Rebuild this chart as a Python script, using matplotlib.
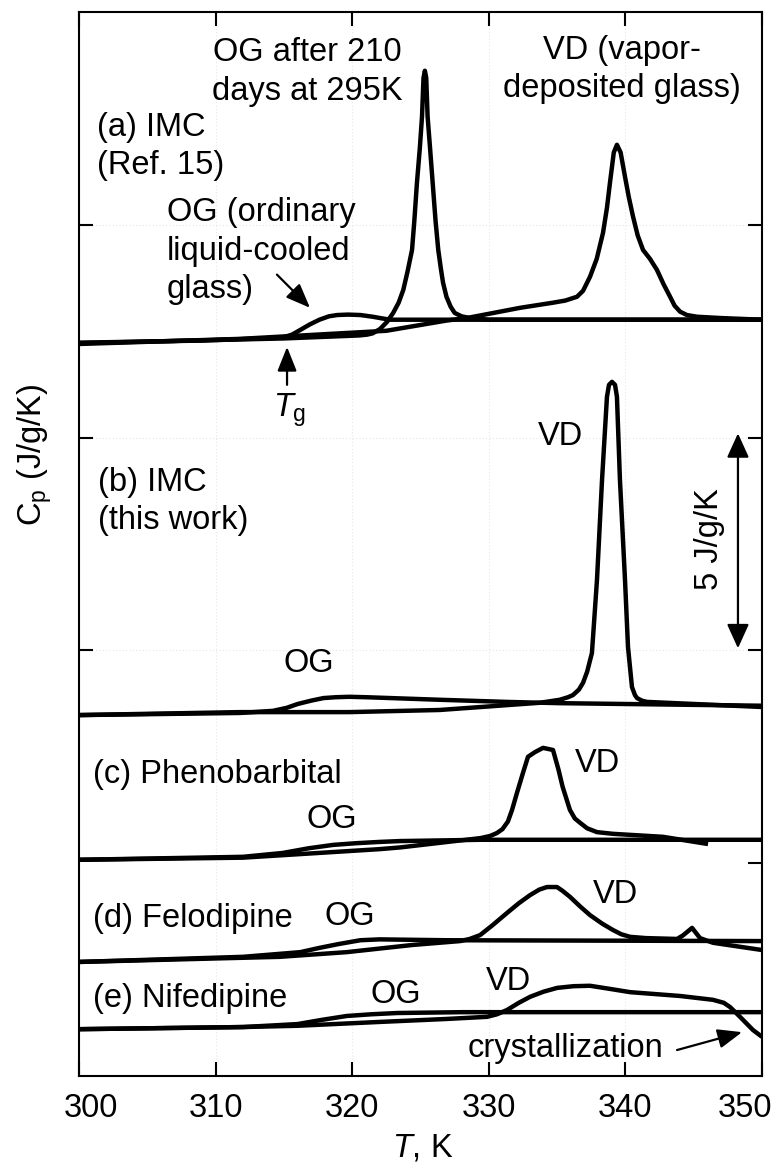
import matplotlib
matplotlib.use('Agg')
import matplotlib.pyplot as plt
from matplotlib.patches import ArrowStyle
from matplotlib.transforms import ScaledTranslation

plt.rcParams['font.family'] = ['Liberation Sans', 'DejaVu Sans']
plt.rcParams['mathtext.fontset'] = 'custom'
plt.rcParams['mathtext.rm'] = 'Liberation Sans'
plt.rcParams['mathtext.it'] = 'Liberation Sans:italic'
plt.rcParams['mathtext.bf'] = 'Liberation Sans:bold'

FS = 23.5

# ---------------- data (T in K, stacked Cp in J/g/K incl. offsets) ----------------
# (a) IMC, Ref. 15
T_a_og = [300, 309, 314.9, 315.6, 316.2, 316.9, 317.6, 318.3, 318.9, 319.7, 320.6, 321.5,
          322.2, 322.8, 325.0, 350]
Cp_a_og = [17.23, 17.28, 17.35, 17.42, 17.53, 17.66, 17.77, 17.85, 17.88, 17.89, 17.88, 17.84,
           17.80, 17.77, 17.77, 17.77]

T_a_aged = [300, 315, 320.5, 321.1, 321.5, 322.03, 322.55, 323.0, 323.4, 323.74, 324.05,
            324.38, 324.55, 324.74, 324.95, 325.11, 325.22, 325.32, 325.42, 325.52, 325.7,
            325.89, 326.1, 326.3, 326.5, 326.65, 326.9, 327.2, 327.5, 328.0, 328.6, 330, 350]
Cp_a_aged = [17.22, 17.33, 17.40, 17.42, 17.45, 17.55, 17.72, 17.93, 18.17, 18.47, 18.90,
             19.41, 20.10, 20.99, 21.80, 22.54, 23.45, 23.62, 23.45, 22.54, 21.80,
             20.99, 20.10, 19.41, 18.95, 18.64, 18.31, 18.08, 17.93, 17.85, 17.81, 17.77, 17.77]

T_a_vd = [300, 311.8, 322.5, 326.9, 328.4, 332.3, 334.7, 335.6, 336.46, 336.9, 337.41, 337.9,
          338.36, 338.65, 338.87, 339.15, 339.38, 339.65, 339.97, 340.25, 340.56, 340.9,
          341.29, 341.8, 342.31, 342.8, 343.27, 343.6, 344.0, 344.5, 345.24, 346.93, 350]
Cp_a_vd = [17.20, 17.32, 17.51, 17.75, 17.81, 18.05, 18.17, 18.22, 18.31, 18.45, 18.78, 19.20,
           19.81, 20.40, 20.99, 21.70, 21.88, 21.70, 21.13, 20.65, 20.19, 19.75,
           19.41, 19.20, 18.94, 18.60, 18.31, 18.10, 17.96, 17.88, 17.84, 17.81, 17.77]

# (b) IMC, this work
T_b_og = [300, 311.8, 314.2, 315.2, 316.0, 317.0, 317.9, 318.8, 319.8, 321.0, 322.8, 326.4,
          331.3, 335.2, 350]
Cp_b_og = [8.48, 8.53, 8.58, 8.65, 8.74, 8.82, 8.88, 8.90, 8.91, 8.90, 8.88, 8.84,
           8.79, 8.76, 8.70]

T_b_vd = [300, 311.8, 319.8, 326.4, 333.75, 335.2, 335.8, 336.16, 336.6, 336.9, 337.2, 337.55,
          337.92, 338.29, 338.65, 338.8, 339.02, 339.24, 339.38, 339.6, 339.97, 340.19,
          340.48, 340.7, 340.85, 341.2, 341.58, 350]
Cp_b_vd = [8.48, 8.55, 8.55, 8.60, 8.77, 8.84, 8.90, 8.95, 9.08, 9.24, 9.50, 9.94,
           11.66, 14.01, 15.96, 16.24, 16.31, 16.24, 15.96, 14.01, 11.66, 10.08,
           9.14, 8.95, 8.88, 8.82, 8.79, 8.67]

# (c) Phenobarbital
T_c_og = [300, 312, 314.9, 316.8, 318.6, 320.3, 322.0, 323.5, 329.4, 350]
Cp_c_og = [5.08, 5.15, 5.24, 5.35, 5.43, 5.47, 5.50, 5.52, 5.55, 5.55]

T_c_vd = [300, 312, 322.0, 323.5, 329.4, 330.1, 330.6, 331.0, 331.4, 331.7, 332.06, 332.5,
          332.87, 333.38, 333.97, 334.7, 335.1, 335.4, 335.94, 336.3, 336.68, 337.2,
          337.92, 339.09, 342.75, 346.05]
Cp_c_vd = [5.08, 5.13, 5.33, 5.37, 5.59, 5.64, 5.71, 5.80, 5.98, 6.25, 6.65, 7.12,
           7.50, 7.61, 7.71, 7.66, 7.20, 6.80, 6.25, 6.05, 5.95, 5.82,
           5.73, 5.69, 5.62, 5.45]

# (d) Felodipine
T_d_og = [300, 312, 316.2, 317.6, 319.0, 320.6, 322.0, 326.9, 350]
Cp_d_og = [2.68, 2.80, 2.91, 3.01, 3.10, 3.19, 3.21, 3.19, 3.17]

T_d_vd = [300, 314.7, 319.6, 324.45, 327.9, 328.6, 329.36, 330.3, 331.33, 332.2, 333.02,
          333.7, 334.26, 334.99, 335.4, 335.94, 336.7, 337.41, 338.3, 339.09, 339.7, 340.34,
          341.5, 343.78, 344.2, 344.88, 345.46, 346.41, 350]
Cp_d_vd = [2.68, 2.80, 2.91, 3.08, 3.17, 3.22, 3.31, 3.55, 3.83, 4.06, 4.25,
           4.38, 4.44, 4.44, 4.35, 4.21, 3.98, 3.78, 3.58, 3.43, 3.33, 3.27,
           3.24, 3.22, 3.30, 3.48, 3.24, 3.13, 2.96]

# (e) Nifedipine
T_e_og = [300, 312, 316, 317.8, 319.6, 321.4, 323.3, 328.1, 350]
Cp_e_og = [1.10, 1.15, 1.22, 1.32, 1.41, 1.45, 1.48, 1.50, 1.50]

T_e_vd = [300, 312, 316, 322.0, 326.9, 329.87, 330.6, 331.33, 332.2, 333.02, 334.0, 335.0,
          336.2, 337.41, 338.8, 340.34, 344.0, 346.41, 347.2, 347.66, 348.39, 349.34, 350]
Cp_e_vd = [1.10, 1.15, 1.18, 1.27, 1.34, 1.39, 1.45, 1.55, 1.72, 1.86, 1.98, 2.07,
           2.11, 2.12, 2.05, 1.97, 1.88, 1.79, 1.72, 1.62, 1.39, 1.08, 0.92]

x_ticks = [300, 310, 320, 330, 340, 350]
x_ticklabels = ['300', '310', '320', '330', '340', '350']
y_ticks_left = [10, 15, 20]
y_ticks_right = [5, 10, 15, 20]

curves = [(T_a_og, Cp_a_og), (T_a_aged, Cp_a_aged), (T_a_vd, Cp_a_vd),
          (T_b_og, Cp_b_og), (T_b_vd, Cp_b_vd),
          (T_c_og, Cp_c_og), (T_c_vd, Cp_c_vd),
          (T_d_og, Cp_d_og), (T_d_vd, Cp_d_vd),
          (T_e_og, Cp_e_og), (T_e_vd, Cp_e_vd)]

# ---------------- figure ----------------
fig = plt.figure(figsize=(7.78, 11.69), dpi=100)
ax = fig.add_axes([0.10154, 0.07956, 0.8779, 0.91017])

for T, y in curves:
    ax.plot(T, y, color='k', lw=3.2, solid_joinstyle='round', solid_capstyle='butt')

ax.set_xlim(300, 350)
ax.set_ylim(0, 25)
ax.set_xticks(x_ticks)
ax.set_xticklabels(x_ticklabels)
ax.set_yticks(y_ticks_left)
ax.set_yticklabels([])
ax.grid(True, color='#e6e6e6', ls=(0, (1, 2)), lw=0.8)
ax.tick_params(direction='in', length=10, width=1.5, top=True, right=False,
               labelsize=FS, pad=12)
for s in ax.spines.values():
    s.set_linewidth(1.5)

axr = ax.twinx()
axr.set_ylim(0, 25)
axr.set_yticks(y_ticks_right)
axr.set_yticklabels([])
axr.tick_params(direction='in', length=10, width=1.5)
for s in axr.spines.values():
    s.set_visible(False)

# ---------------- texts ----------------
kw = dict(fontsize=FS, color='k')
LS = 1.31
ax.text(316.69, 24.41, 'OG after 210\ndays at 295K', ha='center', va='top',
        multialignment='center', linespacing=LS, **kw)
ax.text(339.75, 24.46, 'VD (vapor-\ndeposited glass)', ha='center', va='top',
        multialignment='center', linespacing=LS, **kw)
ax.text(301.32, 22.65, '(a) IMC\n(Ref. 15)', ha='left', va='top', linespacing=LS, **kw)
ax.text(306.44, 20.65, 'OG (ordinary\nliquid-cooled\nglass)', ha='left', va='top',
        linespacing=LS, **kw)
ax.text(315.45, 15.49, r'$T_{\rm g}$', ha='center', va='baseline', **kw)
ax.text(301.39, 14.31, '(b) IMC\n(this work)', ha='left', va='top', linespacing=LS, **kw)
ax.text(335.28, 14.83, 'VD', ha='center', va='baseline', **kw)
ax.text(316.84, 9.49, 'OG', ha='center', va='baseline', **kw)
ax.text(346.19, 12.62, '5 J/g/K', ha='center', va='center', rotation=90, **kw)
ax.text(301.02, 6.89, '(c) Phenobarbital', ha='left', va='baseline', **kw)
ax.text(318.52, 5.83, 'OG', ha='center', va='baseline', **kw)
ax.text(337.92, 7.14, 'VD', ha='center', va='baseline', **kw)
ax.text(301.02, 3.50, '(d) Felodipine', ha='left', va='baseline', **kw)
ax.text(319.84, 3.55, 'OG', ha='center', va='baseline', **kw)
ax.text(339.31, 4.07, 'VD', ha='center', va='baseline', **kw)
ax.text(301.02, 1.62, '(e) Nifedipine', ha='left', va='baseline', **kw)
ax.text(323.21, 1.72, 'OG', ha='center', va='baseline', **kw)
ax.text(331.41, 2.02, 'VD', ha='center', va='baseline', **kw)
ax.text(335.65, 0.45, 'crystallization', ha='center', va='baseline', **kw)

# ---------------- arrows ----------------
head = ArrowStyle('-|>', head_length=0.55, head_width=0.22)
dhead = ArrowStyle('<|-|>', head_length=0.55, head_width=0.25)
akw = dict(arrowstyle=head, color='k', lw=1.6, mutation_scale=27, shrinkA=0, shrinkB=0)
ax.annotate('', xy=(316.91, 18.05), xytext=(314.49, 18.83), arrowprops=akw)
ax.annotate('', xy=(315.23, 17.13), xytext=(315.23, 16.24), arrowprops=akw)
ax.annotate('', xy=(348.54, 1.03), xytext=(343.78, 0.61), arrowprops=akw)
ax.annotate('', xy=(348.24, 15.1), xytext=(348.24, 10.05),
            arrowprops=dict(arrowstyle=dhead, color='k', lw=1.6, mutation_scale=27,
                            shrinkA=0, shrinkB=0))

# ---------------- axis labels ----------------
fig.text(35 / 778, 1 - 455 / 1169, r'C$_{\rm p}$ (J/g/K)', rotation=90,
         ha='center', va='center', fontsize=FS)
fig.text(423 / 778, 1 - 1148 / 1169, r'$T$, K', ha='center', va='center', fontsize=FS)

# nudge the end tick labels like the reference
for lbl in ax.xaxis.get_majorticklabels():
    t = lbl.get_text()
    if t == '300':
        lbl.set_transform(lbl.get_transform() + ScaledTranslation(12 / 100, 0, fig.dpi_scale_trans))
    elif t == '350':
        lbl.set_transform(lbl.get_transform() + ScaledTranslation(-17 / 100, 0, fig.dpi_scale_trans))

fig.savefig('out.png', dpi=100)
